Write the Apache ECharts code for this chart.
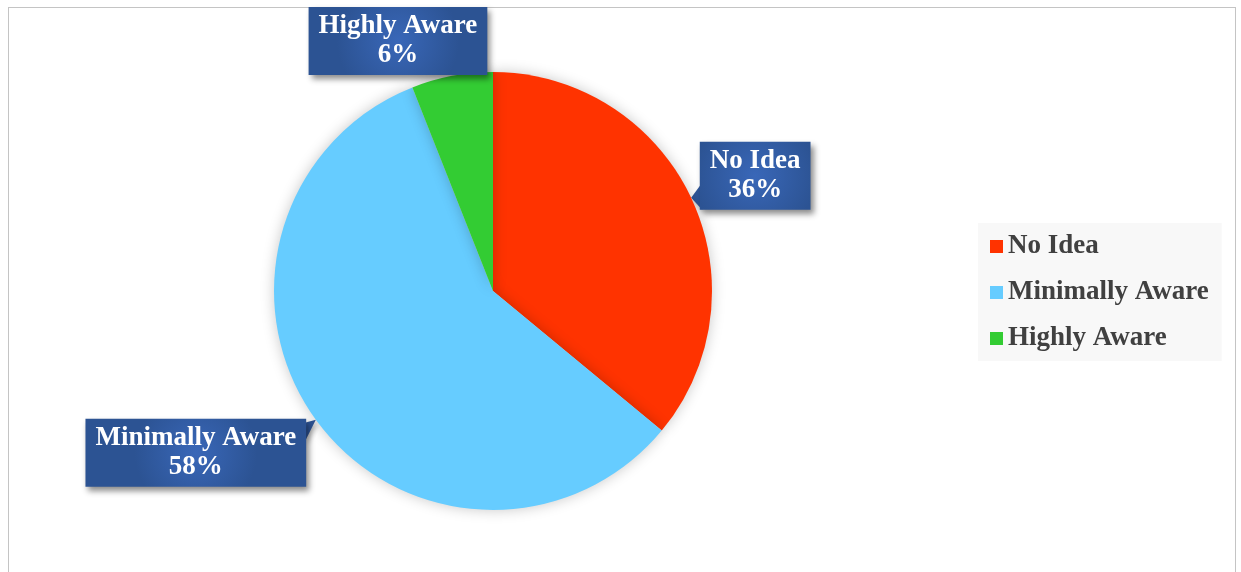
<!DOCTYPE html>
<html>
<head>
<meta charset="utf-8">
<script src="https://cdn.jsdelivr.net/npm/echarts@6/dist/echarts.min.js"></script>
<style>
  html, body { margin: 0; padding: 0; background: #fff; }
  #frame { position: absolute; left: 8px; top: 7px; width: 1228px; height: 600px;
           border: 1.5px solid #c4c4c4; box-sizing: border-box; }
  #chart { position: absolute; left: 0; top: 0; width: 1241px; height: 572px; }
</style>
</head>
<body>
<div id="frame"></div>
<div id="chart"></div>
<script>
// Awareness levels and their shares (%)
const categories = ['No Idea', 'Minimally Aware', 'Highly Aware'];
const shares = [36, 58, 6];
const sliceColors = ['#ff3300', '#66ccff', '#33cc33'];

const CENTER = [493, 291];
const RADIUS = 219;
const CALLOUT_FILL = '#2f5699';

// Callout box centre relative to the slice's mid point on the rim,
// plus the two base corners of the pointer tail (null = no tail)
const callouts = [
  { dx: 64, dy: -22, tail: [[11, -15], [11, 12]] },
  { dx: -120, dy: 33, tail: [[-11, 3], [-11, 22]] },
  { dx: -54, dy: -35, tail: null }
];

function rimPoint(idx) {
  const total = shares.reduce((a, b) => a + b, 0);
  let before = 0;
  for (let i = 0; i < idx; i++) before += shares[i];
  const mid = (before + shares[idx] / 2) / total * Math.PI * 2;
  return [CENTER[0] + RADIUS * Math.sin(mid), CENTER[1] - RADIUS * Math.cos(mid)];
}

// Pointer tails that join each callout to its slice (drawn beneath pie and labels)
const tails = [];
callouts.forEach((c, i) => {
  if (!c.tail) return;
  const p = rimPoint(i);
  tails.push({
    type: 'polygon',
    z: 1,
    shape: { points: [p, [p[0] + c.tail[0][0], p[1] + c.tail[0][1]], [p[0] + c.tail[1][0], p[1] + c.tail[1][1]]] },
    style: {
      fill: CALLOUT_FILL,
      shadowBlur: 5,
      shadowColor: 'rgba(0,0,0,0.3)',
      shadowOffsetX: 2,
      shadowOffsetY: 3
    }
  });
});

const chart = echarts.init(document.getElementById('chart'), null, { renderer: 'canvas' });

const option = {
  animation: false,
  graphic: tails,
  legend: {
    orient: 'vertical',
    left: 978,
    top: 223,
    padding: [10, 13, 9, 12],
    backgroundColor: '#f8f8f8',
    itemWidth: 13,
    itemHeight: 13,
    itemGap: 19,
    icon: 'rect',
    itemStyle: { shadowBlur: 0, shadowColor: 'transparent' },
    textStyle: {
      fontFamily: 'Liberation Serif',
      fontWeight: 'bold',
      fontSize: 27,
      lineHeight: 26,
      color: '#404040'
    },
    data: categories
  },
  series: [{
    type: 'pie',
    z: 3,
    center: CENTER,
    radius: RADIUS,
    startAngle: 90,
    clockwise: true,
    avoidLabelOverlap: false,
    itemStyle: {
      shadowBlur: 14,
      shadowColor: 'rgba(0,0,0,0.22)'
    },
    label: {
      show: true,
      position: 'outside',
      formatter: '{b}\n{d}%',
      color: '#ffffff',
      fontFamily: 'Liberation Serif',
      fontWeight: 'bold',
      fontSize: 27,
      lineHeight: 29,
      align: 'center',
      padding: [10, 10, 0, 10],
      backgroundColor: {
        type: 'radial', x: 0.5, y: 0.5, r: 0.9,
        colorStops: [
          { offset: 0, color: '#3967b8' },
          { offset: 1, color: '#2c5393' }
        ]
      },
      shadowBlur: 6,
      shadowColor: 'rgba(0,0,0,0.45)',
      shadowOffsetX: 3,
      shadowOffsetY: 4
    },
    labelLine: { show: false },
    labelLayout: function (params) {
      const i = params.dataIndex;
      const p = rimPoint(i);
      const c = callouts[i];
      return {
        x: p[0] + c.dx,
        y: p[1] + c.dy,
        align: 'center',
        verticalAlign: 'middle'
      };
    },
    data: categories.map((name, i) => ({
      name: name,
      value: shares[i],
      itemStyle: { color: sliceColors[i] }
    }))
  }]
};

chart.setOption(option);
</script>
</body>
</html>
